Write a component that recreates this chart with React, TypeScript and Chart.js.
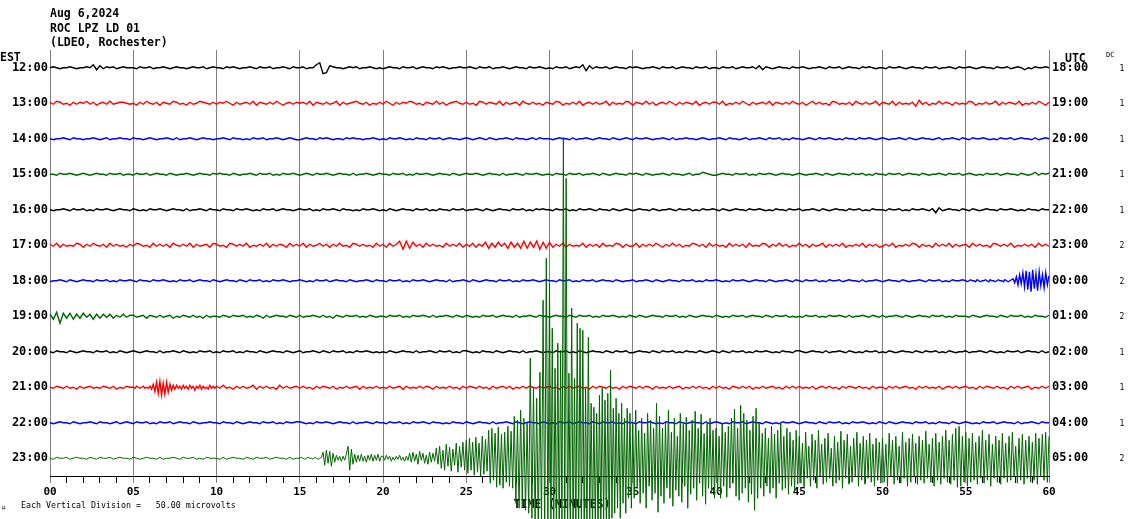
import React, { useEffect, useRef } from "react";
import { Chart, registerables } from "chart.js";

Chart.register(...registerables);

// ---- labels ----
const EST_LABELS = ["12:00","13:00","14:00","15:00","16:00","17:00","18:00","19:00","20:00","21:00","22:00","23:00"];
const UTC_LABELS = ["18:00","19:00","20:00","21:00","22:00","23:00","00:00","01:00","02:00","03:00","04:00","05:00"];
const DC_VALUES = [1,1,1,1,1,2,2,2,1,1,1,2];
const X_TICK_MINUTES = [0,1,2,3,4,5,6,7,8,9,10,11,12,13,14,15,16,17,18,19,20,21,22,23,24,25,26,27,28,29,30,31,32,33,34,35,36,37,38,39,40,41,42,43,44,45,46,47,48,49,50,51,52,53,54,55,56,57,58,59,60];

// ---- trace data: one entry per 5-minute block ----
// string blocks: one char per sample (0-9 up, a-z down, A-Z = +10..)
// number blocks: samples in counts (up positive)
const TRACE_1200 = [
  "010a0010a00103b2a101a0100","0a1001a0010a0100a01001a01","00a1010a0010a1001a0010a10",
  "01a0035fe2100a0101a0010a0","a0100a1001a0100a1010a0010","010a1001a0010a0100a10010a",
  "0a1001a0103c2a1001a0100a1","010a0010a1001a0100a1001a0","0a1001a01001a2b10a0100a10",
  "010a0010a1001a0100a1010a0","0a10010a0100a1001a0010a10","010a0100a1001a010b0a10010",
];
const TRACE_1300 = [
  "1a21a0b1a102a1b01a2a0110a","0b1a20a1b10a21a0b1a0210a1","a1020b1a01a2b10a1a20b01a1",
  "01a2b10a1a02b1a0120a1b0a1","a20b1a1021a0b10a2a1b0120a","1a0b21a10a2b1a01b20a1a0b1",
  "0a21b0a1a2b01a1a02b1a0a21","b10a2a1b01a20b1a10a2b01a1","1a2b0a1a20b1a01a2b10a1a20",
  "a1b02a1a0b21a0a1b20a1a02b","10a2b1a0a1c3a1b0a2a10b1a0","a21b0a1a02b1a10a2b0a1a20b1",
];
const TRACE_1400 = [
  "0a0010a100a0010a01a00100a","100a010a0010a1a0010a0100a","0010a100a0a1001a0010a010a",
  "a0100a1010a00a10100a0010a","0a10010a0a100a1001a0100a0","10a010a10a0010a100a01a100",
  "0a0100a1a0010a0100a10a010","a10010a0010a1a00100a010a0","010a100a01a0010a1001a0a10",
  "0a010a10010a0a100a10010a0","10a0010a10a0100a01a0010a1","0a10010a0a1001a0100a1a010",
];
const TRACE_1500 = [
  "00a10010a010a0100a1001a00","a1001a0100a10a0010a0100a1","0100a10a0010a1001a0a10010",
  "a010a10010a0100a1a0010a01","00a1001a0a10010a0100a10a0","10010a0100a1a0010a10010a0",
  "0a100a1001a0010a10a0100a1","010a10a0010a100a01a00210a","a0100a1001a0a10010a0100a0",
  "10a0010a10a0100a1001a0a10","0a1001a0100a10a0010a1001a","010a0a1001a0100a10a02a101",
];
const TRACE_1600 = [
  "0a0010a1001a0a10010a0100a","10a0a10010a0100a1a0010a10","0a100a10010a0a1001a0100a0",
  "1001a0a10010a100a0a10010a","0a10a0100a1001a0a100a1001","a0010a10a0100a1001a0a1010",
  "0a1001a0a10010a100a10a010","a0100a10a0010a1001a0a1001","0a10a0100a10010a0a100a100",
  "1a0010a10a0100a1001a0a100","0a1001a0a10010a1c2a0100a1","0a10a0100a10010a0a100a100",
];
const TRACE_1700 = [
  "1a2b1a0a21b1a20a1b2a1a0b1","a21a0b2a1a1b20a1a2b1a01b2","1a0b21a1a2b0a1a2b1a10b2a1",
  "a2b1a02a1b1a2a0b21a1a0b2a","1b2a14d4c3a1b2a1a0b2a1a2b","1a2b1a3c2b3a2c3b2c4c3b4d3c",
  "3b1a2b1a0a2b1a1b2a0a21b1a","a2b1a1a20b1a2a1b0a21a1b2a","1a0b2a1a1b2a0a21b1a2a1b0a",
  "2a1b1a02b1a1a2b0a1a2b1a1b","a1a2b0a1a21b1a0b2a1a2b1a0","1b2a1a0b21a1a2b0a1a1b2a1a",
];
const TRACE_1800 = [
  "a0010a10a0100a1001a0a1001","0a100a10010a0a1001a0100a1","0a0100a10a1001a0a10010a00",
  "10a0a1001a0100a10a0010a10","0a1001a0a10010a0100a1a001","0a10a0100a1001a0a10010a01",
  "00a1001a0a1001a0100a10a00","1a0010a10a0100a1001a0a100","10a0a10010a0100a10a0010a1",
  "0a1001a0a1001a0100a1a0010","a0100a10a0010a1001a0a1001",
  "0a0100a10a0010a100a0100a10a012b4d6c8fAi9kBh7j9e6g8d5",
];
const TRACE_1900 = [
  "2c4g3b3c2b3a2c2b2a2b1a2a1","1a01b10a1a01b0a10a1a0b1a0","0a10a1001a0a10b1a0100a10a",
  "1a0010a1a0b10a1001a0a10a0","0a1001a0a10010a1a0010a10a","10a0a1001a0100a1a0010a100",
  "a0100a10a1001a0a10010a0a1","0a10a0100a1001a0a10a0100a","10a0a1001a0100a10a1001a0a",
  "0a1001a0a10010a1a0010a10a","1a0010a10a0100a1001a0a100","0a10a0100a10a1001a0a100a1",
];
const TRACE_2000 = [
  "0a100a10a0100a1001a0a10a0","10a0100a1a0010a10a0a1001a","0a1001a0a100a10a0100a10a0",
  "1a0010a10a1001a0a10010a0a","0a10a0100a1a0010a1001a0a1","10a0a100a10a0100a1a0010a0",
  "0a1001a0a10a0100a10a1001a","a0100a10a1001a0a100a10a01","0a10a1001a0a10010a0a100a1",
  "10a0100a1a0010a10a0a1001a","0a10a0100a10a1001a0a10a00","1a0010a10a0a1001a0100a1a0",
];
const TRACE_2100 = [
  "0a10a1a0b1a01a0a10a1b0a10",
  "0a10a01a0a1b3d5f6h4g5e3c2b2a1b2a1b2a1c1a2b1a0b2a1a",
  "1a2a0b1a1a02b1a1a0b2a1a01","a1a0b1a10a1b0a1a01b1a0a1a","0a1a01b1a0a1a10b1a0a1a0b1",
  "a10a1a0b1a01a1b0a1a10a1a0","1a0b1a1a01a0b1a10a1a0b1a1","0a1a10b1a0a1a01b0a1a1a0b1",
  "a1a0b10a1a1b0a1a01a0b1a1a","1a0a1b01a1a0b1a10a1a0b1a0","0b1a1a01a0b1a1a0a1b01a1a0",
  "1a0b1a10a1a0b1a1a01b0a1a1",
];
const TRACE_2200 = [
  "0a0100a10a0010a100a01a010","a1001a0a1001a0100a10a0010","0a100a10a0100a1001a0a1001",
  "10a0a10010a0100a1a0010a10","0a1001a0a10010a100a0a100a","10a0100a1a0010a10a0100a10",
  "a0a1001a0100a10a1001a0a10","0a10010a0a100a10a0100a1a0","10a0a1001a0100a10a0a10010",
  "a0100a10a1001a0a10010a0a1","0a10a0100a1001a0a100a10a0","10a0a1001a0100a1a0010a100",
];
const TRACE_2300 = [
  "0a1001a0100a10a1001a0100a",
  "10a0100a1a0010a1001a0a100",
  "0a1a0100a10a1001a0100a1a0",
  [0,1,0,-1,0,1,0,0,-1,1,0,-1,0,1,6,-7,8,-5,7,-8,5,-4,3,-2,2,-3,2,-2,4,12,-12,9,-6,4,-4,3,-3,4,-3,2,-4,3,-2,4,-3,3,-2,4,-3,2],
  [2,-2,3,-1,2,-3,1,-2,2,-1,3,-2,1,-3,2,-2,5,-4,6,-3,4,-6,7,-2,5,-5,3,-6,6,-4,5,-3,10,-6,12,-10,8,-12,14,-8,11,-13,9,-7,15,-14,12,-9,16,-12],
  [18,-15,20,-12,16,-17,21,-14,15,-18,22,-16,19,-13,28,-25,30,-22,25,-29,31,-27,24,-30,26,-24,32,-28,27,-30,42,-45,38,-50,48,-48,40,-52,35,-55,100,-60,70,-65,60,-75,86,-70,158,-80,200,-75],
  [175,-80,130,-85,90,-80,115,-85,108,-80,321,-90,280,-85,85,-80,150,-90,80,-85,135,-80,130,-75,128,-85,70,-80,121,-70,55,-75,51,-70,45,-80,63,-75,70,-65,58,-70,65,-80,88,-60,50,-55,60,-50,45,-60,55,-45,40,-55,50,-40,45,-50],
  [35,-40,48,-30,28,-45,40,-35,25,-50,45,-28,38,-42,30,-35,55,-54,42,-38,30,-45,36,-30,48,-40,26,-48,40,-32,22,-38,45,-44,34,-28,41,-50,28,-36,38,-30,47,-42,30,-25,44,-38,25,-46,36,-30,40,-35,28,-40],
  [30,-35,22,-40,35,-28,26,-39,32,-30,40,-25,49,-38,30,-42,53,-35,45,-30,38,-44,28,-36,42,-52,50,-40,35,-30,25,-38,30,-28,20,-35,32,-30,24,-40,28,-25,35,-32,22,-30,30,-36,26,-28,18,-33,28,-26],
  [22,-25,15,-30,26,-20,12,-28,24,-22,18,-30,28,-18,14,-26,20,-24,25,-20,10,-28,22,-25,16,-22,27,-30,18,-20,24,-26,12,-24,20,-18,26,-28,15,-22,22,-26,18,-20,25,-24,14,-28,20,-22,16,-25],
  [20,-24,14,-28,25,-18,18,-26,22,-22,12,-25,26,-20,16,-28,20,-24,24,-18,15,-26,22,-22,18,-25,27,-20,14,-24,20,-28,25,-22,16,-26,22,-20,28,-24,18,-26,24,-22,30,-29,32,-28,22,-24],
  [26,-28,20,-24,25,-22,16,-26,22,-20,28,-25,18,-22,24,-28,14,-20,22,-24,18,-26,25,-20,15,-24,22,-22,26,-18,12,-25,20,-22,24,-26,18,-20,22,-24,16,-22,25,-26,20,-18,24,-22,26,-24,22],
];

const TRACES: (string | number[])[][] = [
  TRACE_1200, TRACE_1300, TRACE_1400, TRACE_1500, TRACE_1600, TRACE_1700,
  TRACE_1800, TRACE_1900, TRACE_2000, TRACE_2100, TRACE_2200, TRACE_2300,
];
const TRACE_COLORS = ["#000000", "#ff0000", "#0000ff", "#006400"];
const COUNTS_PER_DIVISION = 35.5;
const BLOCK_MINUTES = 5;

function decodeChar(ch: string): number {
  const c = ch.charCodeAt(0);
  if (c >= 48 && c <= 57) return c - 48;
  if (c >= 97 && c <= 122) return -(c - 96);
  if (c >= 65 && c <= 90) return c - 55;
  return 0;
}

function buildPoints(blocks: (string | number[])[], row: number) {
  const pts: { x: number; y: number }[] = [];
  blocks.forEach((block, b) => {
    const vals = typeof block === "string" ? block.split("").map(decodeChar) : block;
    const last = b === blocks.length - 1;
    const step = BLOCK_MINUTES / (last ? vals.length - 1 : vals.length);
    vals.forEach((v, j) => {
      pts.push({ x: b * BLOCK_MINUTES + j * step, y: row - v / COUNTS_PER_DIVISION });
    });
  });
  return pts;
}

const MONO = '"DejaVu Sans Mono", "Liberation Mono", monospace';

const textPlugin = {
  id: "helicorderText",
  beforeDatasetsDraw(chart: any) {
    const ctx = chart.ctx;
    ctx.save();
    ctx.fillStyle = "#000";
    ctx.textBaseline = "alphabetic";
    ctx.textAlign = "center";
    ctx.font = `bold 11.5px ${MONO}`;
    ctx.fillText("TIME (MINUTES)", 562, 508);
    ctx.textAlign = "left";
    ctx.font = `8.3px ${MONO}`;
    ctx.fillText("Each Vertical Division =   50.00 microvolts", 21, 508);
    ctx.font = `6px ${MONO}`;
    ctx.fillText("\u03bc", 2, 509);
    ctx.restore();
  },
  afterDraw(chart: any) {
    const ctx = chart.ctx;
    const yScale = chart.scales.y;
    ctx.save();
    ctx.fillStyle = "#000";
    ctx.textBaseline = "alphabetic";
    ctx.textAlign = "left";
    ctx.font = `bold 11.5px ${MONO}`;
    ctx.fillText("Aug 6,2024", 50, 16.5);
    ctx.fillText("ROC LPZ LD 01", 50, 31.5);
    ctx.fillText("(LDEO, Rochester)", 50, 46);
    ctx.fillText("EST", 0, 61);
    ctx.fillText("UTC", 1065, 62);
    ctx.font = `7px ${MONO}`;
    ctx.fillText("DC", 1106, 57);
    ctx.font = `8px ${MONO}`;
    ctx.textAlign = "center";
    ctx.textBaseline = "middle";
    DC_VALUES.forEach((v, i) => {
      ctx.fillText(String(v), 1122, yScale.getPixelForValue(i) + 1);
    });
    ctx.restore();
  },
};

export default function App() {
  const ref = useRef<HTMLCanvasElement | null>(null);
  useEffect(() => {
    if (!ref.current) return;
    const datasets = TRACES.map((blocks, i) => ({
      data: buildPoints(blocks, i),
      borderColor: TRACE_COLORS[i % 4],
      borderWidth: i === TRACES.length - 1 ? 1 : 1.4,
      pointRadius: 0,
      fill: false,
      tension: 0,
      clip: false as any,
      order: i === TRACES.length - 1 ? 0 : 1,
      yAxisID: "y",
    }));
    const chart = new Chart(ref.current, {
      type: "line",
      data: { datasets },
      options: {
        animation: false,
        responsive: false,
        devicePixelRatio: 1,
        events: [],
        parsing: false as any,
        layout: { padding: { top: 50, left: 0, right: 0, bottom: 0 }, autoPadding: false },
        plugins: { legend: { display: false }, tooltip: { enabled: false } },
        scales: {
          x: {
            type: "linear",
            position: "bottom",
            min: 0,
            max: 60,
            afterFit: (s: any) => { s.height = 43; },
            afterBuildTicks: (s: any) => { s.ticks = X_TICK_MINUTES.map((v) => ({ value: v })); },
            ticks: {
              autoSkip: false,
              maxRotation: 0,
              padding: 3,
              color: "#000",
              font: { family: MONO, size: 11, weight: "bold" },
              callback: (v: any) => (Number(v) % 5 === 0 ? String(v).padStart(2, "0") : ""),
            },
            grid: {
              drawOnChartArea: true,
              lineWidth: 1,
              tickLength: 7,
              color: (c: any) => (c.tick && c.tick.value % 5 === 0 ? "#808080" : "rgba(0,0,0,0)"),
              tickColor: (c: any) => (c.tick && c.tick.value % 5 === 0 ? "#808080" : "#000000"),
            },
            border: { display: true, color: "#000000", width: 1 },
          },
          y: {
            type: "linear",
            position: "left",
            min: -0.5,
            max: 11.5,
            reverse: true,
            afterFit: (s: any) => { s.width = 50; },
            afterBuildTicks: (s: any) => { s.ticks = EST_LABELS.map((_, i) => ({ value: i })); },
            ticks: {
              autoSkip: false,
              padding: 2,
              color: "#000",
              font: { family: MONO, size: 12, weight: "bold" },
              callback: (v: any) => EST_LABELS[Number(v)] ?? "",
            },
            grid: { display: false, drawTicks: false },
            border: { display: false },
          },
          y2: {
            type: "linear",
            position: "right",
            min: -0.5,
            max: 11.5,
            reverse: true,
            afterFit: (s: any) => { s.width = 81; },
            afterBuildTicks: (s: any) => { s.ticks = UTC_LABELS.map((_, i) => ({ value: i })); },
            ticks: {
              autoSkip: false,
              padding: 3,
              color: "#000",
              font: { family: MONO, size: 12, weight: "bold" },
              callback: (v: any) => UTC_LABELS[Number(v)] ?? "",
            },
            grid: { display: false, drawTicks: false },
            border: { display: false },
          },
        },
      } as any,
      plugins: [textPlugin],
    });
    return () => chart.destroy();
  }, []);
  return (
    <canvas
      ref={ref}
      width={1130}
      height={519}
      style={{ position: "absolute", left: 0, top: 0, width: 1130, height: 519 }}
    />
  );
}
